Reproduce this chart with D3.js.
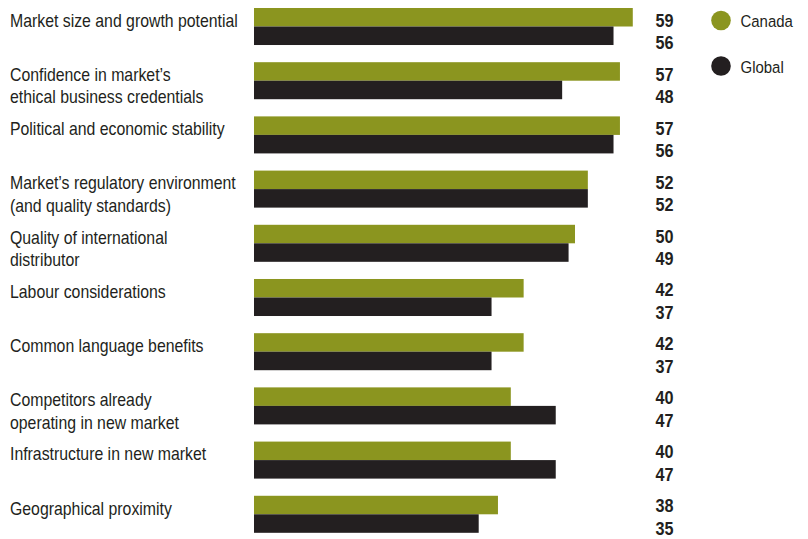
<!DOCTYPE html>
<html>
<head>
<meta charset="utf-8">
<script src="https://cdn.jsdelivr.net/npm/d3@7"></script>
<style>
  html, body { margin: 0; padding: 0; background: #fff; }
  svg { display: block; }
</style>
</head>
<body>
<svg id="chart" width="808" height="539"></svg>
<script>
// Factors considered when choosing a new market (index scores)
const categories = [
  ["Market size and growth potential"],
  ["Confidence in market\u2019s", "ethical business credentials"],
  ["Political and economic stability"],
  ["Market\u2019s regulatory environment", "(and quality standards)"],
  ["Quality of international", "distributor"],
  ["Labour considerations"],
  ["Common language benefits"],
  ["Competitors already", "operating in new market"],
  ["Infrastructure in new market"],
  ["Geographical proximity"]
];
const seriesNames = ["Canada", "Global"];
const canadaValues = [59, 57, 57, 52, 50, 42, 42, 40, 40, 38];
const globalValues = [56, 48, 56, 52, 49, 37, 37, 47, 47, 35];

const colors = { Canada: "#8b951f", Global: "#231f20" };
const textColor = "#231f20";
const FONT = "'Liberation Sans', Arial, sans-serif";
// horizontal squeeze giving the condensed look of the typeface
const condense = 0.88;

const svg = d3.select("#chart");
const keys = categories.map(c => c.join(" "));

const y = d3.scaleBand()
  .domain(keys)
  .range([8, 532.8])
  .paddingInner(0.317)
  .paddingOuter(0);

const ySub = d3.scaleBand()
  .domain(seriesNames)
  .range([0, y.bandwidth()]);

// value labels sit on a slightly tighter rhythm than the bars
const yLabel = d3.scalePoint()
  .domain(keys)
  .range([8, 8 + 9 * 53.95]);

const x = d3.scaleLinear()
  .domain([0, 60])
  .range([254, 254 + 6.42 * 60]);

const rows = keys.map((k, i) => ({
  key: k,
  lines: categories[i],
  values: [
    { series: "Canada", value: canadaValues[i] },
    { series: "Global", value: globalValues[i] }
  ]
}));

const g = svg.selectAll("g.row")
  .data(rows)
  .join("g")
  .attr("class", "row")
  .attr("transform", d => `translate(0,${y(d.key)})`);

// bars
g.selectAll("rect")
  .data(d => d.values)
  .join("rect")
  .attr("x", x(0))
  .attr("y", d => ySub(d.series))
  .attr("width", d => x(d.value) - x(0))
  .attr("height", ySub.bandwidth())
  .attr("fill", d => colors[d.series]);

// category labels
g.append("g")
  .attr("transform", `translate(10,18.8) scale(${condense},1)`)
  .append("text")
  .attr("font-family", FONT)
  .attr("font-size", 18)
  .attr("fill", textColor)
  .selectAll("tspan")
  .data(d => d.lines)
  .join("tspan")
  .attr("x", 0)
  .attr("dy", (d, i) => i === 0 ? 0 : 22.5)
  .text(d => d);

// value labels
svg.append("g")
  .selectAll("g.vrow")
  .data(rows)
  .join("g")
  .attr("class", "vrow")
  .attr("transform", d => `translate(0,${yLabel(d.key)})`)
  .selectAll("g.val")
  .data(d => d.values)
  .join("g")
  .attr("class", "val")
  .attr("transform", (d, i) => `translate(673.5,${i === 0 ? 18.7 : 41.3}) scale(0.9,1)`)
  .append("text")
  .attr("text-anchor", "end")
  .attr("font-family", FONT)
  .attr("font-weight", "bold")
  .attr("font-size", 18)
  .attr("fill", textColor)
  .text(d => d.value);

// legend
const legend = svg.append("g")
  .selectAll("g")
  .data(seriesNames)
  .join("g")
  .attr("transform", (d, i) => `translate(721,${20.5 + i * 45.5})`);

legend.append("circle")
  .attr("r", 9.8)
  .attr("fill", d => colors[d]);

legend.append("g")
  .attr("transform", `translate(19.5,6.8) scale(${condense},1)`)
  .append("text")
  .attr("font-family", FONT)
  .attr("font-size", 17)
  .attr("fill", textColor)
  .text(d => d);
</script>
</body>
</html>
